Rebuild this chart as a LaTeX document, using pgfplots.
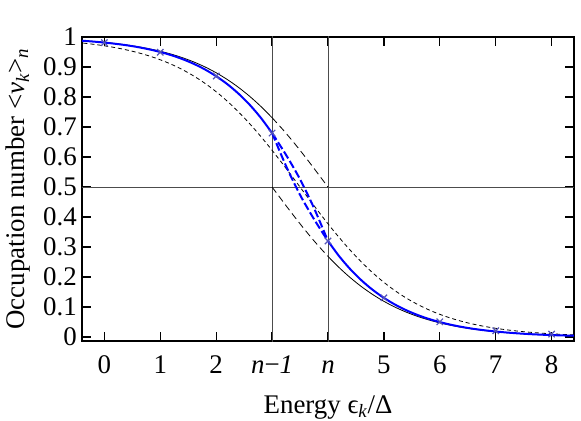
\documentclass[border=0pt]{standalone}
\usepackage{fontspec}
\setmainfont{Liberation Serif}
\usepackage{pgfplots}
\pgfplotsset{compat=1.18}
\definecolor{gridc}{rgb}{0.3,0.3,0.3}
\definecolor{markc}{rgb}{0.33,0.33,0.72}
\begin{document}
\fontsize{27}{32}\selectfont
\begin{tikzpicture}
\path[use as bounding box] (-82bp,-80bp) rectangle (499bp,341bp);
\begin{axis}[
  at={(0,0)}, anchor=south west,
  scale only axis, width=492bp, height=304bp,
  xmin=-0.4, xmax=8.4, ymin=-0.013, ymax=1,
  xtick={0,...,8},
  xticklabels={0,1,2,\textit{n}−\textit{1},\textit{n},5,6,7,8},
  ytick={0,0.1,0.2,0.3,0.4,0.5,0.6,0.7,0.8,0.9,1},
  yticklabels={0,0.1,0.2,0.3,0.4,0.5,0.6,0.7,0.8,0.9,1},
  tick align=inside, major tick length=9bp, minor tick num=0,
  axis line style={line width=1.6bp},
  every tick/.style={line width=1.3bp, black},
  /pgf/number format/assume math mode=true,
  xticklabel style={anchor=base, yshift=-32bp, inner sep=0pt},
  yticklabel style={anchor=east, inner sep=0pt, xshift=-5bp},
  xlabel={Energy ϵ\textsubscript{\textit{k}}/Δ},
  ylabel={Occupation number <\textit{ν}\textsubscript{\textit{k}}>\textsubscript{\textit{n}}},
  xlabel style={at={(axis description cs:0.5,-0.237)}, anchor=base},
  ylabel style={at={(axis description cs:-0.13,0.5)}, anchor=center},
]
% reference lines
\addplot[gridc, line width=0.9bp] coordinates {(3,-0.1) (3,1.1)};
\addplot[gridc, line width=0.9bp] coordinates {(4,-0.1) (4,1.1)};
\addplot[gridc, line width=0.9bp] coordinates {(-1,0.5) (9,0.5)};
% broad distribution (short dashes)
\addplot[black, line width=0.8bp, dash pattern=on 4bp off 3bp, smooth] coordinates {
(-0.5,0.98201) (-0.3,0.97812) (-0.1,0.97340) (0.1,0.96770) (0.3,0.96083) (0.5,0.95257)
(0.7,0.94267) (0.9,0.93086) (1.1,0.91683) (1.3,0.90025) (1.5,0.88080) (1.7,0.85815)
(1.9,0.83202) (2.1,0.80218) (2.3,0.76852) (2.5,0.73106) (2.7,0.68997) (2.9,0.64566)
(3.1,0.59869) (3.3,0.54983) (3.5,0.5) (3.7,0.45017) (3.9,0.40131) (4.1,0.35434)
(4.3,0.31003) (4.5,0.26894) (4.7,0.23148) (4.9,0.19782) (5.1,0.16798) (5.3,0.14185)
(5.5,0.11920) (5.7,0.09975) (5.9,0.08317) (6.1,0.06914) (6.3,0.05733) (6.5,0.04743)
(6.7,0.03917) (6.9,0.03230) (7.1,0.02660) (7.3,0.02188) (7.5,0.01799) (7.7,0.01478)
(7.9,0.01213) (8.1,0.00995) (8.3,0.00816) (8.5,0.00669)};
% distribution centred at n (solid left part)
\addplot[black, line width=0.8bp, smooth] coordinates {
(-0.4,0.98787) (-0.2,0.98522) (0,0.98201) (0.2,0.97812) (0.4,0.97340) (0.6,0.96770)
(0.8,0.96083) (1.0,0.95257) (1.2,0.94267) (1.4,0.93086) (1.6,0.91683) (1.8,0.90025)
(2.0,0.88080) (2.2,0.85815) (2.4,0.83202) (2.6,0.80218) (2.8,0.76852) (3.0,0.73106)};
\addplot[black, line width=0.8bp, dash pattern=on 7bp off 4bp, smooth] coordinates {
(3.0,0.73106) (3.2,0.68997) (3.4,0.64566) (3.6,0.59869) (3.8,0.54983) (4.0,0.5)};
% distribution centred at n-1
\addplot[black, line width=0.8bp, dash pattern=on 7bp off 4bp, smooth] coordinates {
(3.0,0.5) (3.2,0.45017) (3.4,0.40131) (3.6,0.35434) (3.8,0.31003) (4.0,0.26894)};
\addplot[black, line width=0.8bp, smooth] coordinates {
(4.0,0.26894) (4.2,0.23148) (4.4,0.19782) (4.6,0.16798) (4.8,0.14185) (5.0,0.11920)
(5.2,0.09975) (5.4,0.08317) (5.6,0.06914) (5.8,0.05733) (6.0,0.04743) (6.2,0.03917)
(6.4,0.03230) (6.6,0.02660) (6.8,0.02188) (7.0,0.01799) (7.2,0.01478) (7.4,0.01213)
(7.6,0.00995) (7.8,0.00816) (8.0,0.00669) (8.2,0.00549) (8.4,0.00450)};
% blue curve
\addplot[blue, line width=2bp, smooth] coordinates {
(-0.4,0.9876) (-0.2,0.9848) (0,0.9814) (0.2,0.9773) (0.4,0.9724) (0.6,0.9663)
(0.8,0.9589) (1.0,0.9500) (1.2,0.9392) (1.4,0.9262) (1.6,0.9105) (1.8,0.8918)
(2.0,0.8693) (2.2,0.8427) (2.4,0.8111) (2.6,0.7740) (2.8,0.7305) (3.0,0.6798)};
\addplot[blue, line width=2bp, dash pattern=on 8bp off 3bp, smooth] coordinates {
(3.0,0.680) (3.25,0.607) (3.5,0.526) (3.75,0.430) (4.0,0.320)};
\addplot[blue, line width=2bp, dash pattern=on 8bp off 3bp, smooth] coordinates {
(3.0,0.680) (3.25,0.570) (3.5,0.474) (3.75,0.393) (4.0,0.320)};
\addplot[blue, line width=2bp, smooth] coordinates {
(4.0,0.3202) (4.2,0.2695) (4.4,0.2260) (4.6,0.1889) (4.8,0.1573) (5.0,0.1307)
(5.2,0.1082) (5.4,0.0895) (5.6,0.0738) (5.8,0.0608) (6.0,0.0500) (6.2,0.0411)
(6.4,0.0337) (6.6,0.0276) (6.8,0.0227) (7.0,0.0186) (7.2,0.0152) (7.4,0.0124)
(7.6,0.0100) (7.8,0.0082) (8.0,0.0067) (8.2,0.0055) (8.4,0.0045)};
% computed points
\addplot[only marks, mark=x, mark size=4.5bp, markc, mark options={line width=1.2bp}] coordinates {
(0,0.981) (1,0.949) (2,0.870) (3,0.680) (4,0.320) (5,0.131) (6,0.051) (7,0.021) (8,0.010)};
\end{axis}
\end{tikzpicture}
\end{document}
